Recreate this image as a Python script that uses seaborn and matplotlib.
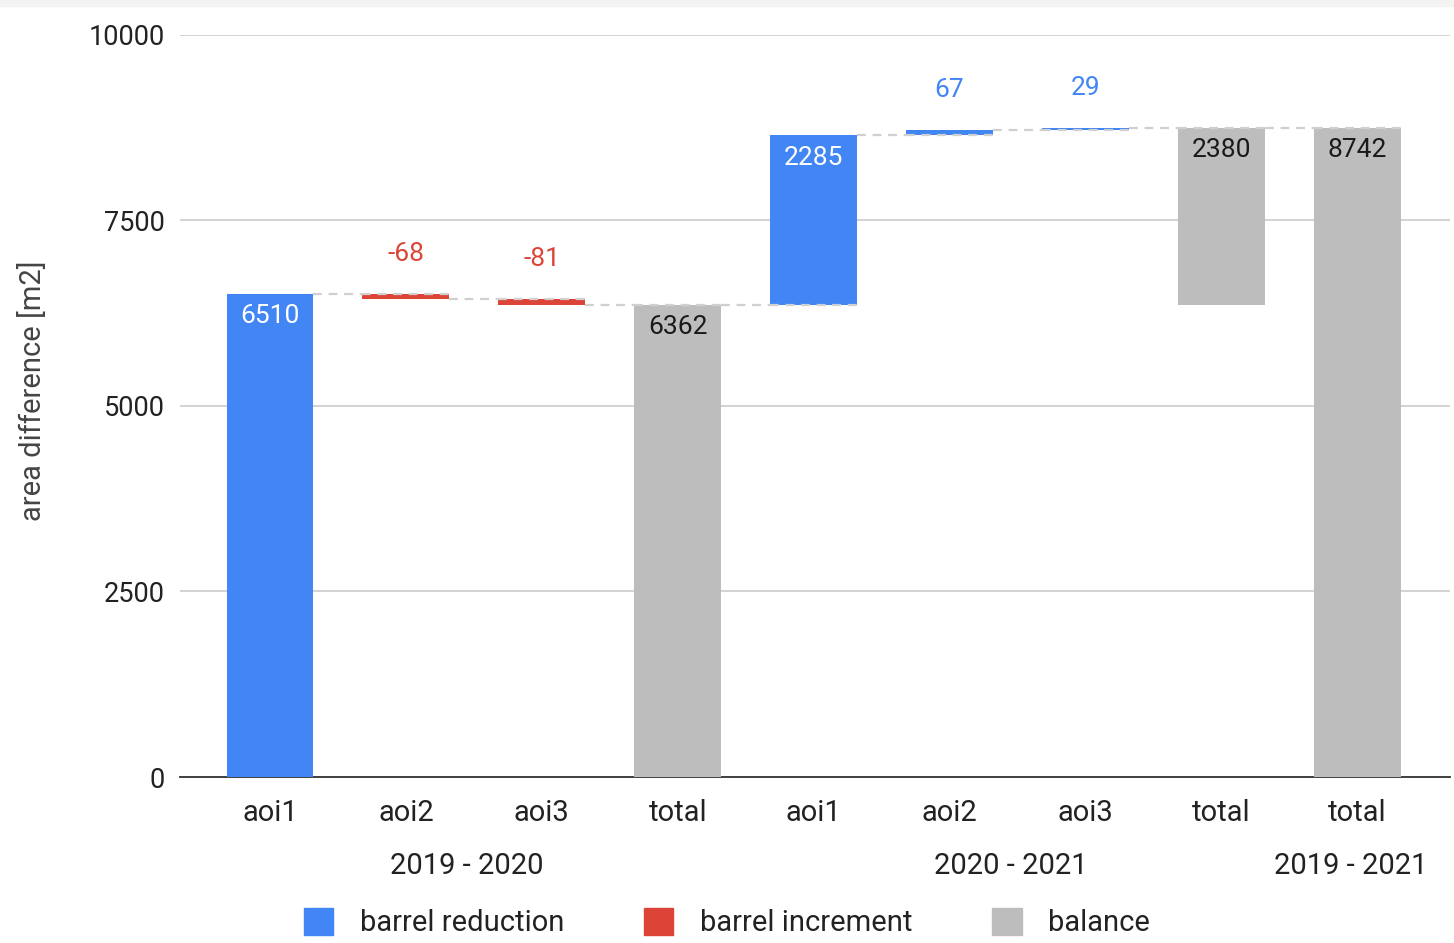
import pandas as pd
import matplotlib.pyplot as plt
import seaborn as sns
from matplotlib.patches import Patch
from matplotlib.transforms import blended_transform_factory

# Data
tick_labels = ["aoi1", "aoi2", "aoi3", "total", "aoi1", "aoi2", "aoi3", "total", "total"]
periods = ["2019 - 2020"] * 4 + ["2020 - 2021"] * 4 + ["2019 - 2021"]
values = [6510, -68, -81, 6362, 2285, 67, 29, 2380, 8742]
kinds = ["reduction", "increment", "increment", "balance",
         "reduction", "reduction", "reduction", "balance", "balance"]
period_start = {"2019 - 2020": 0, "2020 - 2021": 6362, "2019 - 2021": 0}

kind_names = {"reduction": "barrel reduction", "increment": "barrel increment", "balance": "balance"}
colors = {"reduction": "#4285F4", "increment": "#DB4437", "balance": "#BDBDBD"}

# running levels for the waterfall
bottoms, tops = [], []
level = 0
for v, k, p in zip(values, kinds, periods):
    if k == "balance":
        b = period_start[p]
    else:
        b = level
    bottoms.append(b)
    tops.append(b + v)
    level = b + v

bar_ids = [f"{i}_{t}" for i, t in enumerate(tick_labels)]
df = pd.DataFrame({"bar": bar_ids, "value": values, "kind": kinds,
                   "bottom": bottoms, "top": tops, "period": periods})

sns.set_theme(style="white")
plt.rcParams['font.family'] = ['Roboto', 'DejaVu Sans']

fig = plt.figure(figsize=(14.54, 9.43), dpi=100)
ax = fig.add_axes([0.124, 0.176, 0.873, 0.787])

for k in ["reduction", "increment", "balance"]:
    sub = df[df["kind"] == k]
    sns.barplot(data=sub, x="bar", y="value", order=bar_ids, color=colors[k],
                saturation=1, width=0.64, bottom=sub["bottom"].tolist(), linewidth=0,
                errorbar=None, ax=ax, zorder=3)

# dashed connectors
half = 0.32
for i in range(len(values) - 1):
    ax.hlines(tops[i], i + half, i + 1 - half, colors="#d0d0d0",
              linestyles=(0, (4, 3)), linewidth=1.6, zorder=2)
    ax.hlines(tops[i], i + 1 - half, i + 1 + half, colors="#d0d0d0",
              linestyles=(0, (4, 3)), linewidth=1.6, zorder=4)

# value labels
for i, row in df.iterrows():
    hi = max(row["top"], row["bottom"])
    if abs(row["value"]) < 500:
        ax.annotate(f"{row['value']}", (i, hi), xytext=(0, 29), textcoords="offset points",
                    ha="center", va="center", fontsize=19, color=colors[row["kind"]])
    else:
        col = "white" if row["kind"] == "reduction" else "#1a1a1a"
        ax.annotate(f"{row['value']}", (i, hi), xytext=(0, -16), textcoords="offset points",
                    ha="center", va="center", fontsize=19, color=col, zorder=5)

ax.set_ylim(0, 10000)
ax.set_xlim(-0.66, 8.68)
ax.set_yticks([0, 2500, 5000, 7500, 10000])
ax.set_xticks(range(len(tick_labels)))
ax.set_xticklabels(tick_labels, fontsize=21, color="#222222")
ax.tick_params(axis="y", labelsize=19.5, labelcolor="#222222", pad=11, length=0)
ax.tick_params(axis="x", pad=16, length=0)
ax.yaxis.grid(True, color="#cccccc", linewidth=1.2, zorder=0)
ax.set_axisbelow(True)
for s in ["left", "right", "top"]:
    ax.spines[s].set_visible(False)
ax.spines["bottom"].set_color("#333333")
ax.spines["bottom"].set_linewidth(1.3)
ax.set_xlabel("")
ax.set_ylabel("area difference [m2]", fontsize=21, color="#444444")
ax.yaxis.set_label_coords(-0.105, 0.52)

# period group labels
trans = blended_transform_factory(ax.transData, ax.transAxes)
for p in dict.fromkeys(periods):
    pos = [i for i, q in enumerate(periods) if q == p]
    ax.text(sum(pos) / len(pos) - 0.05, -0.12, p, transform=trans, ha="center",
            va="center", fontsize=21, color="#222222")

handles = [Patch(color=colors[k], label=kind_names[k]) for k in ["reduction", "increment", "balance"]]
fig.legend(handles=handles, loc="lower center", bbox_to_anchor=(0.5, -0.022), ncol=3,
           frameon=False, fontsize=21, handlelength=1.0, handleheight=1.0,
           columnspacing=2.75, handletextpad=0.9, labelcolor="#222222")

fig.patches.append(plt.Rectangle((0, 0.994), 1, 0.006, transform=fig.transFigure,
                                 color="#f3f3f3", zorder=0))

fig.savefig("out.png", dpi=100)
